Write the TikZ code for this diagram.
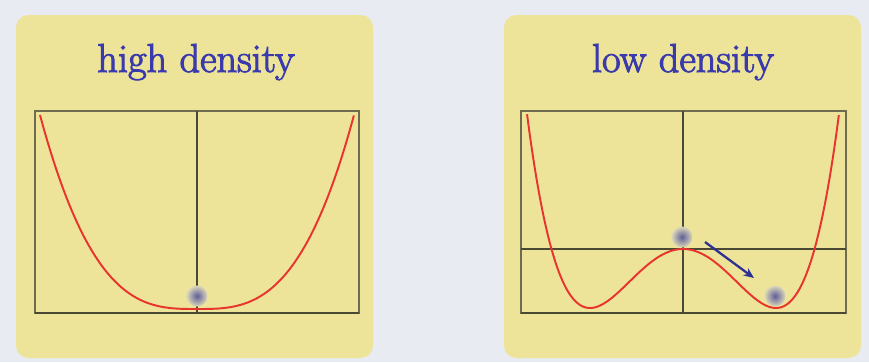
\documentclass[tikz,border=0pt]{standalone}
\usepackage{fontspec}
\usepackage{tikz}
\usepackage{xcolor}
\usetikzlibrary{arrows.meta,positioning}
\newfontfamily\titlefont[FakeBold=2.5]{Latin Modern Roman}
\definecolor{wall}{HTML}{E8ECF2}
\definecolor{cardyellow}{HTML}{EDE49A}
\definecolor{titleblue}{HTML}{3A3AAC}
\definecolor{axisgray}{HTML}{6E6C4C}
\definecolor{axisdark}{HTML}{4A4936}
\definecolor{curvered}{HTML}{E8342C}
\definecolor{ballblue}{HTML}{5E5E9A}
\definecolor{ballhalo}{HTML}{C9C9DC}
\definecolor{arrowblue}{HTML}{2E3192}
\tikzset{
  card/.style={fill=cardyellow, draw=none, rounded corners=7pt},
  cardtitle/.style={text=titleblue, font=\titlefont\fontsize{23}{27}\selectfont,
    anchor=base, inner sep=0pt},
  plotframe/.style={draw=axisgray, line width=0.6pt},
  midaxis/.style={draw=axisdark, line width=0.7pt},
  baseaxis/.style={draw=axisdark, line width=1.1pt},
  potential/.style={draw=curvered, line width=1.1pt, smooth},
  marble/.style={circle, minimum size=0.42cm, inner sep=0pt,
    inner color=ballblue, outer color=ballhalo!45!cardyellow},
  roll/.style={-{Stealth[length=6pt,width=5pt]}, draw=arrowblue, line width=1.3pt}
}

\begin{document}
\begin{tikzpicture}[x=0.02cm,y=-0.02cm]
  \fill[wall] (0,0) rectangle (869,362);
  \useasboundingbox (0,0) rectangle (869,362);

  % left card: single well
  \path[card] (16,15) rectangle (373,358);
  \node[cardtitle] (hightitle) at (196,72) {high density};
  \draw[plotframe] (35,111) rectangle (359,313);
  \draw[midaxis] (197,111) -- (197,313);
  \draw[baseaxis] (35,313) -- (359,313);
  \draw[potential] plot[domain=-1:1, samples=120]
    ({197+157*\x},{309-194*abs(\x)*(\x)*(\x)});
  \node[marble] (highball) at (197,296) {};

  % right card: double well
  \path[card] (504,15) rectangle (861,358);
  \node[cardtitle] (lowtitle) at (683,72) {low density};
  \draw[plotframe] (521,111) rectangle (846,313);
  \draw[midaxis] (683,111) -- (683,313);
  \draw[midaxis] (521,249) -- (846,249);
  \draw[baseaxis] (521,313) -- (846,313);
  \draw[potential] plot[domain=-1.677:1.677, samples=160]
    ({683+93*\x},{308-59*((\x)*(\x)-1)*((\x)*(\x)-1)});
  \node[marble] (topball) at (682,237) {};
  \node[marble] (wellball) at (775,296) {};
  \coordinate (rollstart) at (705,242);
  \coordinate (rollend) at (754,278);
  \draw[roll] (rollstart) -- (rollend);
\end{tikzpicture}
\end{document}
